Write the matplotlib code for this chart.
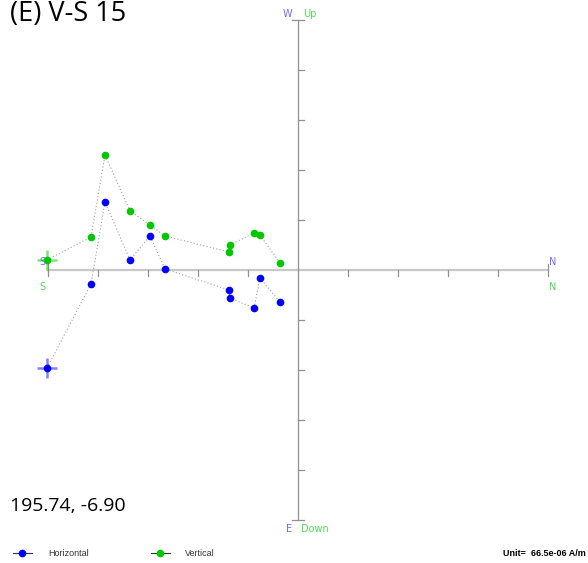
import matplotlib.pyplot as plt

# Zijderveld diagram, values in tick units (1 tick = 1 unit)
north = [-5.02, -4.14, -3.86, -3.36, -2.96, -2.66, -1.38, -1.36, -0.88, -0.76, -0.36]
west = [-1.96, -0.28, 1.36, 0.20, 0.68, 0.02, -0.40, -0.56, -0.76, -0.16, -0.64]
up = [0.20, 0.66, 2.30, 1.18, 0.90, 0.68, 0.36, 0.50, 0.74, 0.70, 0.14]

title = "(E) V-S 15"
dec_inc = "195.74, -6.90"
unit_text = "Unit=  66.5e-06 A/m"

BLUE = "#0000ff"
GREEN = "#00c800"
LBLUE = "#6b6bff"
LGREEN = "#55d855"

W, H = 588, 563
cx, cy, scale = 298, 270, 50.0


def px(x, y):
    """pixel -> data coords"""
    return (x - cx) / scale, (cy - y) / scale


fig = plt.figure(figsize=(W / 100, H / 100), dpi=100)
ax = fig.add_axes([0, 0, 1, 1])
ax.set_xlim(px(0, 0)[0], px(W, 0)[0])
ax.set_ylim(px(0, H)[1], px(0, 0)[1])
ax.axis("off")

# axes
ax.plot([-5, 5], [0, 0], color="#c8c8c8", lw=1.6, zorder=1)
ax.plot([0, 0], [-5, 5], color="#909090", lw=0.9, zorder=1)
t = 0.12
for k in range(-4, 5):
    if k == 0:
        continue
    ax.plot([k, k], [0, -t], color="#909090", lw=0.9, zorder=1)
    ax.plot([0, t], [k, k], color="#909090", lw=0.9, zorder=1)
for k in (-5, 5):
    ax.plot([k, k], [-t, t], color="#909090", lw=0.9, zorder=1)
    ax.plot([-t, t], [k, k], color="#909090", lw=0.9, zorder=1)

# data
dot = dict(linestyle=(0, (1, 2)), color="#a0a0a0", lw=0.8, zorder=2)
ax.plot(north, west, **dot)
ax.plot(north, up, **dot)
ax.plot(north, west, "o", color=BLUE, ms=4.5, mec=BLUE, zorder=3)
ax.plot(north, up, "o", color=GREEN, ms=4.5, mec=GREEN, zorder=3)
ax.plot(north[0], west[0], "+", color=BLUE, alpha=0.5, ms=14, mew=1.8, zorder=4)
ax.plot(north[0], up[0], "+", color=GREEN, alpha=0.5, ms=14, mew=1.8, zorder=4)

# axis labels
lab = dict(fontsize=7, family="DejaVu Sans", va="center")
ax.text(*px(292, 14), "W", color=LBLUE, ha="right", **lab)
ax.text(*px(303, 14), "Up", color=LGREEN, ha="left", **lab)
ax.text(*px(42, 262), "S", color=LBLUE, ha="center", **lab)
ax.text(*px(42, 287), "S", color=LGREEN, ha="center", **lab)
ax.text(*px(553, 262), "N", color=LBLUE, ha="center", **lab)
ax.text(*px(553, 287), "N", color=LGREEN, ha="center", **lab)
ax.text(*px(292, 529), "E", color=LBLUE, ha="right", **lab)
ax.text(*px(301, 529), "Down", color=LGREEN, ha="left", **lab)

# title and direction text
ax.text(*px(10, 21), title, fontsize=19.5, family="Open Sans", ha="left", va="baseline")
ax.text(*px(10, 511), dec_inc, fontsize=14, family="Open Sans", ha="left", va="baseline")

# legend
ax.plot(*zip(px(13, 553), px(32, 553)), color="#333333", lw=0.8)
ax.plot(*px(22, 553), "o", color=BLUE, ms=4.5)
ax.text(*px(48, 553), "Horizontal", fontsize=6.5, family="Liberation Sans",
        color="#333333", va="center")
ax.plot(*zip(px(151, 553), px(170, 553)), color="#333333", lw=0.8)
ax.plot(*px(160, 553), "o", color=GREEN, ms=4.5)
ax.text(*px(185, 553), "Vertical", fontsize=6.5, family="Liberation Sans",
        color="#333333", va="center")
ax.text(*px(586, 553), unit_text, fontsize=6.5, family="Liberation Sans",
        weight="bold", ha="right", va="center")

fig.savefig("out.png", dpi=100)
